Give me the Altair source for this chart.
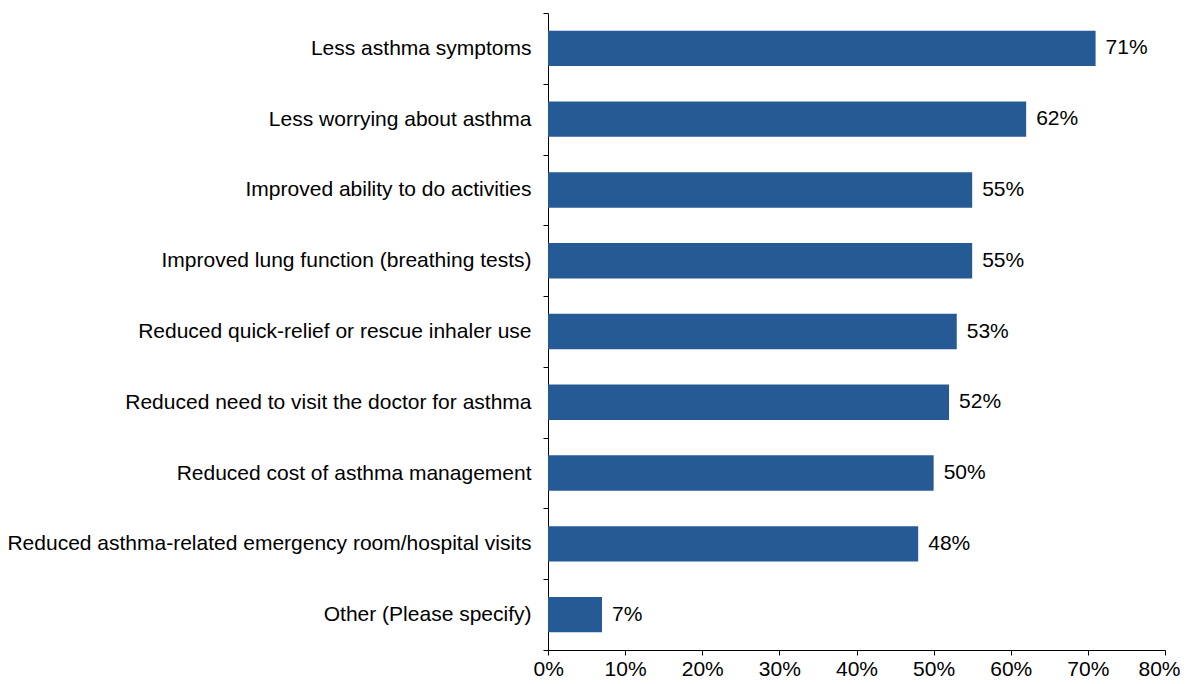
import altair as alt
import pandas as pd

categories = [
    "Less asthma symptoms",
    "Less worrying about asthma",
    "Improved ability to do activities",
    "Improved lung function (breathing tests)",
    "Reduced quick-relief or rescue inhaler use",
    "Reduced need to visit the doctor for asthma",
    "Reduced cost of asthma management",
    "Reduced asthma-related emergency room/hospital visits",
    "Other (Please specify)",
]
values = [0.71, 0.62, 0.55, 0.55, 0.53, 0.52, 0.50, 0.48, 0.07]
x_ticks = [0, 0.1, 0.2, 0.3, 0.4, 0.5, 0.6, 0.7, 0.8]

df = pd.DataFrame({"cat": categories, "val": values})
FONT = "Liberation Sans"
FS = 21

y = alt.Y("cat:N", sort=categories, title=None,
          scale=alt.Scale(paddingInner=0, paddingOuter=0),
          axis=alt.Axis(labelFontSize=FS, labelFont=FONT, labelColor="#000000",
                        labelLimit=800, labelPadding=12, tickSize=5,
                        tickColor="#000000", domainColor="#000000",
                        tickBand="extent", tickExtra=True))
x = alt.X("val:Q", title=None,
          scale=alt.Scale(domain=[0, 0.8], nice=False),
          axis=alt.Axis(values=x_ticks, format=".0%", labelFontSize=FS, labelFont=FONT,
                        labelColor="#000000", tickSize=5, tickColor="#000000",
                        domainColor="#000000", grid=False, labelPadding=3,
                        labelFlush=True, labelFlushOffset=15))

bars = alt.Chart(df).mark_bar(color="#265a94", height={"band": 0.5}).encode(x=x, y=y)
text = alt.Chart(df).mark_text(align="left", dx=10, fontSize=FS, font=FONT,
                               color="#000000").encode(
    x="val:Q", y=alt.Y("cat:N", sort=categories), text=alt.Text("val:Q", format=".0%"))

chart = (bars + text).properties(
    width=617, height=637,
    autosize=alt.AutoSizeParams(type="none"),
    padding={"left": 540, "top": 5, "right": 16, "bottom": 30},
    background="white",
).configure_view(strokeWidth=0)

chart.save("out.html", embed_options={"renderer": "svg", "actions": False})
